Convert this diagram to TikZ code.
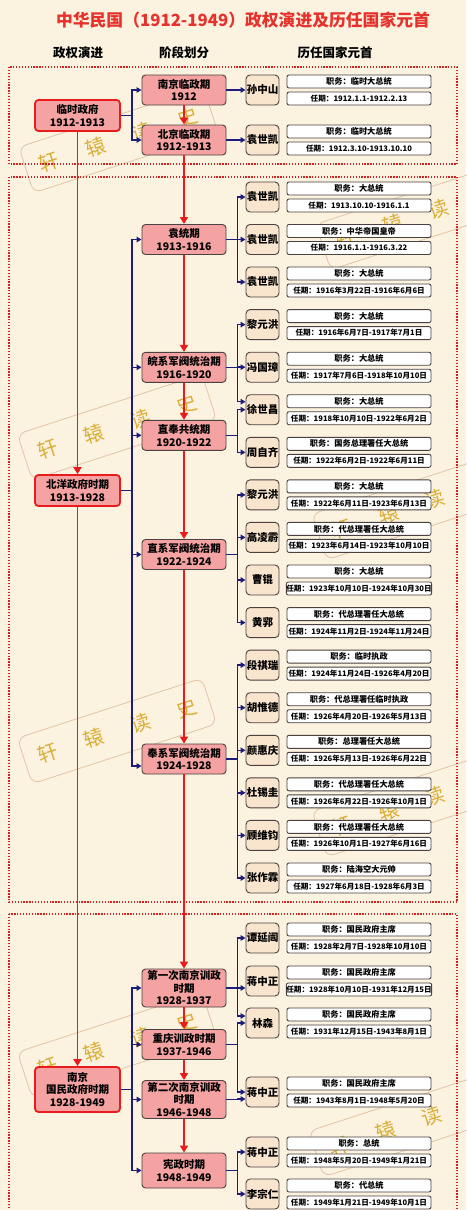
\documentclass[tikz,border=0pt]{standalone}
\usepackage{fontspec}
\setmainfont{Noto Sans CJK SC}
\usetikzlibrary{arrows.meta}
\definecolor{bg}{RGB}{251,242,224}
\definecolor{ttl}{RGB}{229,50,45}
\definecolor{pinkfill}{RGB}{245,162,162}
\definecolor{redline}{RGB}{232,28,28}
\definecolor{navyline}{RGB}{28,28,122}
\definecolor{peach}{RGB}{249,228,205}
\definecolor{darkb}{RGB}{75,65,65}
\definecolor{boxred}{RGB}{210,35,35}
\definecolor{wmtext}{RGB}{214,168,40}
\definecolor{wmframe}{RGB}{226,196,166}
\newcommand\prow[5]{%
  \node[person] (#1) at (262.5,#2) {#3};
  \node[info,font=\bfseries\fontsize{8.2}{9}\selectfont] (#1d) at (359,{#2-8.5}) {职务：#4};
  \node[info] (#1t) at (359,{#2+8.5}) {任期：#5};
}
\newcommand\wmark[3]{%
  \begin{scope}[shift={(#2,#3)},rotate=18]
    \draw[wmframe,line width=0.8pt,rounded corners=8pt] (-97,-24) rectangle (97,24);
    \node[wm] (#1a) at (-73,0) {轩};
    \node[wm] (#1b) at (-24.4,0) {辕};
    \node[wm] (#1c) at (24.4,0) {读};
    \node[wm] (#1d) at (73,0) {史};
  \end{scope}
}
\begin{document}
\begin{tikzpicture}[x=1pt,y=-1pt,
  wm/.style={text=wmtext,font=\fontsize{20}{20}\selectfont,transform shape,inner sep=0pt,opacity=0.9},
  titlestyle/.style={text=ttl,font=\bfseries\fontsize{16.8}{20}\selectfont,inner sep=0pt},
  hdr/.style={font=\bfseries\fontsize{12.5}{14}\selectfont,inner sep=0pt},
  leftnode/.style={draw=redline,line width=1.8pt,fill=pinkfill,rounded corners=3.5pt,minimum width=85pt,minimum height=31pt,inner sep=0pt,align=center,font=\bfseries\fontsize{10.5}{12.5}\selectfont},
  midnode/.style={draw=darkb,line width=0.9pt,fill=pinkfill,rounded corners=3.5pt,minimum width=84pt,minimum height=30pt,inner sep=0pt,align=center,font=\bfseries\fontsize{10.5}{12.5}\selectfont},
  person/.style={draw=darkb,line width=0.9pt,fill=peach,rounded corners=4pt,minimum width=33pt,minimum height=30pt,inner sep=0pt,font=\bfseries\fontsize{10.5}{12}\selectfont},
  info/.style={draw=darkb,line width=0.9pt,fill=white,rounded corners=2pt,minimum width=144pt,minimum height=13pt,inner sep=0pt,font=\bfseries\fontsize{7.6}{9}\selectfont},
  groupbox/.style={draw=boxred,line width=1.3pt,dash pattern=on 1.3pt off 1.6pt},
  rl/.style={draw=redline,line width=1.8pt,-{Triangle[width=8pt,length=7pt]}},
  bl/.style={draw=navyline,line width=1.5pt,-{Triangle[width=5.5pt,length=5pt]}}
]
\useasboundingbox (0,0) rectangle (466,1210);
\fill[bg] (0,0) rectangle (466,1210);

% watermarks
\wmark{wa}{118.5}{140}
\wmark{wb}{415.5}{217}
\wmark{wc}{117}{427}
\wmark{wd}{411.5}{507}
\wmark{we}{117}{731}
\wmark{wf}{411.5}{804}
\wmark{wg}{117}{1045}
\wmark{wh}{408.5}{1124}

% group boxes
\draw[groupbox] (9,67) rectangle (457,164);
\draw[groupbox] (9,177) rectangle (457,902);
\draw[groupbox] (9,914) rectangle (457,1216);

% title and headers
\node[titlestyle] (title) at (243,20) {中华民国（1912-1949）政权演进及历任国家元首};
\node[hdr] (h1) at (78,53) {政权演进};
\node[hdr] (h2) at (184,53) {阶段划分};
\node[hdr] (h3) at (335,53) {历任国家元首};

% left column
\node[leftnode] (l1) at (77.5,115.5) {临时政府\\1912-1913};
\node[leftnode] (l2) at (77.5,490.5) {北洋政府时期\\1913-1928};
\node[leftnode,minimum height=45pt] (l3) at (77.5,1089.5) {南京\\国民政府时期\\1928-1949};

% middle column
\node[midnode] (m1) at (184,90) {南京临政期\\1912};
\node[midnode] (m2) at (184,140) {北京临政期\\1912-1913};
\node[midnode] (m3) at (184,239.5) {袁统期\\1913-1916};
\node[midnode] (m4) at (184,367.3) {皖系军阀统治期\\1916-1920};
\node[midnode] (m5) at (184,435.3) {直奉共统期\\1920-1922};
\node[midnode] (m6) at (184,554.5) {直系军阀统治期\\1922-1924};
\node[midnode] (m7) at (184,759) {奉系军阀统治期\\1924-1928};
\node[midnode,minimum height=38pt] (m8) at (184,988) {第一次南京训政\\时期\\1928-1937};
\node[midnode] (m9) at (184,1044.5) {重庆训政时期\\1937-1946};
\node[midnode,minimum height=38pt] (m10) at (184,1099.5) {第二次南京训政\\时期\\1946-1948};
\node[midnode,minimum height=35pt] (m11) at (184,1170.5) {宪政时期\\1948-1949};

% right column
\prow{p1}{90}{孙中山}{临时大总统}{1912.1.1-1912.2.13}
\prow{p2}{140}{袁世凯}{临时大总统}{1912.3.10-1913.10.10}
\prow{p3}{197}{袁世凯}{大总统}{1913.10.10-1916.1.1}
\prow{p4}{239.5}{袁世凯}{中华帝国皇帝}{1916.1.1-1916.3.22}
\prow{p5}{282}{袁世凯}{大总统}{1916年3月22日-1916年6月6日}
\prow{p6}{324.6}{黎元洪}{大总统}{1916年6月7日-1917年7月1日}
\prow{p7}{367.2}{冯国璋}{大总统}{1917年7月6日-1918年10月10日}
\prow{p8}{409.7}{徐世昌}{大总统}{1918年10月10日-1922年6月2日}
\prow{p9}{452.3}{周自齐}{国务总理署任大总统}{1922年6月2日-1922年6月11日}
\prow{p10}{494.9}{黎元洪}{大总统}{1922年6月11日-1923年6月13日}
\prow{p11}{537.4}{高凌霨}{代总理署任大总统}{1923年6月14日-1923年10月10日}
\prow{p12}{580}{曹锟}{大总统}{1923年10月10日-1924年10月30日}
\prow{p13}{622.6}{黄郛}{代总理署任大总统}{1924年11月2日-1924年11月24日}
\prow{p14}{665.1}{段祺瑞}{临时执政}{1924年11月24日-1926年4月20日}
\prow{p15}{707.7}{胡惟德}{代总理署任临时执政}{1926年4月20日-1926年5月13日}
\prow{p16}{750.3}{颜惠庆}{总理署任大总统}{1926年5月13日-1926年6月22日}
\prow{p17}{792.8}{杜锡圭}{代总理署任大总统}{1926年6月22日-1926年10月1日}
\prow{p18}{835.4}{顾维钧}{代总理署任大总统}{1926年10月1日-1927年6月16日}
\prow{p19}{878}{张作霖}{陆海空大元帅}{1927年6月18日-1928年6月3日}
\prow{p20}{938}{谭延闿}{国民政府主席}{1928年2月7日-1928年10月10日}
\prow{p21}{981}{蒋中正}{国民政府主席}{1928年10月10日-1931年12月15日}
\prow{p22}{1023}{林森}{国民政府主席}{1931年12月15日-1943年8月1日}
\prow{p23}{1092}{蒋中正}{国民政府主席}{1943年8月1日-1948年5月20日}
\prow{p24}{1152}{蒋中正}{总统}{1948年5月20日-1949年1月21日}
\prow{p25}{1194}{李宗仁}{代总统}{1949年1月21日-1949年10月1日}

% red flow connectors
\draw[rl] (l1.south) -- (l2.north);
\draw[rl] (l2.south) -- (l3.north);
\draw[rl] (m1.south) -- (m2.north);
\draw[rl] (m2.south) -- (m3.north);
\draw[rl] (m3.south) -- (m4.north);
\draw[rl] (m4.south) -- (m5.north);
\draw[rl] (m5.south) -- (m6.north);
\draw[rl] (m6.south) -- (m7.north);
\draw[rl] (m7.south) -- (m8.north);
\draw[rl] (m8.south) -- (m9.north);
\draw[rl] (m9.south) -- (m10.north);
\draw[rl] (m10.south) -- (m11.north);

% left to middle
\foreach \t in {m1,m2} \draw[bl] (l1.east) -- ++(11,0) |- (\t.west);
\foreach \t in {m3,m4,m5,m6} \draw[bl] (l2.east) -- ++(11,0) |- (\t.west);
\draw[bl] (l2.east) -- ++(11,0) |- ([yshift=-7pt]m7.west);
\foreach \t in {m8,m9,m10,m11} \draw[bl] (l3.east) -- ++(11,0) |- (\t.west);

% middle to persons
\draw[bl] (m1.east) -- (p1.west);
\draw[bl] (m2.east) -- (p2.west);
\foreach \t in {p3,p4,p5} \draw[bl] (m3.east) -- ++(11,0) |- (\t.west);
\foreach \t in {p6,p7} \draw[bl] (m4.east) -- ++(11,0) |- (\t.west);
\draw[bl] (m4.east) -- ++(11,0) |- ([yshift=8pt]p8.west);
\foreach \t in {p8,p9} \draw[bl] (m5.east) -- ++(11,0) |- (\t.west);
\foreach \t in {p10,p11,p12,p13} \draw[bl] (m6.east) -- ++(11,0) |- (\t.west);
\foreach \t in {p14,p15,p16,p17,p18,p19} \draw[bl] (m7.east) -- ++(11,0) |- (\t.west);
\draw[bl] (m8.east) -- ++(11,0) |- (p20.west);
\draw[bl] (m8.east) -- ++(11,0) |- ([yshift=-7pt]p21.west);
\draw[bl] (m8.east) -- ++(11,0) |- ([yshift=7pt]p22.west);
\draw[bl] (m9.east) -- ++(11,0) |- (p22.west);
\draw[bl] (m9.east) -- ++(11,0) |- (p23.west);
\draw[bl] (m10.east) -- ++(11,0) |- ([yshift=-7pt]p23.west);
\foreach \t in {p24,p25} \draw[bl] (m11.east) -- ++(11,0) |- (\t.west);
\end{tikzpicture}
\end{document}
